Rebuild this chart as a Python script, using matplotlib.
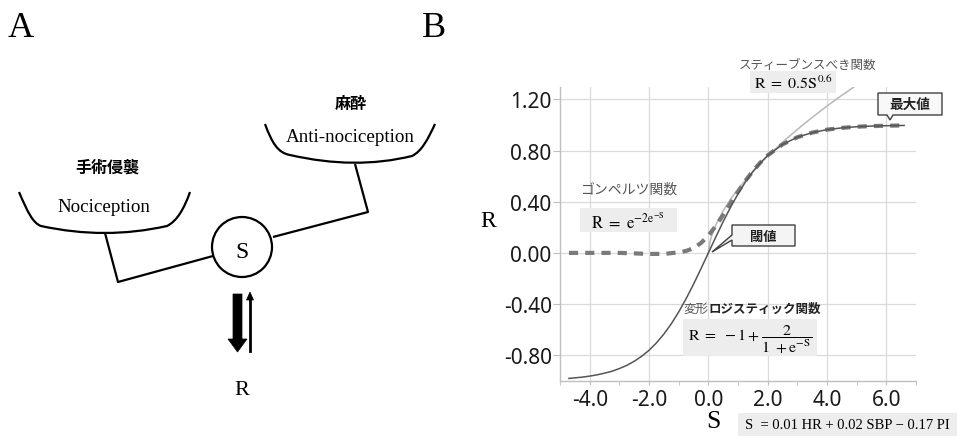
import matplotlib.pyplot as plt
from matplotlib.patches import Circle, Polygon, Rectangle, PathPatch
from matplotlib.path import Path
from matplotlib.ticker import FixedLocator, FixedFormatter

plt.rcParams.update(
    {
        "font.family": ["Noto Sans CJK JP", "DejaVu Sans"],
        "mathtext.fontset": "stix",
        "axes.unicode_minus": False,
    }
)

SERIF = "Liberation Serif"
CJK = ["Noto Sans CJK JP", "DejaVu Sans"]

# response curves R(S)
s_logistic = [-4.7, -4.25, -4.0, -3.75, -3.5, -3.25, -3.0, -2.75, -2.5, -2.25, -2.0,
              -1.75, -1.5, -1.25, -1.0, -0.75, -0.5, -0.25, 0.0, 0.25, 0.5, 0.75,
              1.0, 1.25, 1.5, 1.75, 2.0, 2.5, 3.0, 3.5, 4.0, 4.5, 5.0, 5.5, 6.0, 6.6]
r_logistic = [-0.982, -0.972, -0.964, -0.954, -0.941, -0.926, -0.905, -0.880, -0.848, -0.809,
              -0.762, -0.704, -0.635, -0.555, -0.462, -0.358, -0.245, -0.124, 0.000, 0.124,
              0.245, 0.358, 0.462, 0.555, 0.635, 0.704, 0.762, 0.848, 0.905, 0.941, 0.964,
              0.978, 0.987, 0.992, 0.995, 0.997]

s_gompertz = [-4.7, -4.0, -3.0, -2.0, -1.5, -1.0, -0.75, -0.5, -0.25, 0.0, 0.25, 0.5, 0.75,
              1.0, 1.25, 1.5, 1.75, 2.0, 2.5, 3.0, 3.5, 4.0, 4.5, 5.0, 5.5, 6.0, 6.6]
r_gompertz = [0.000, 0.000, 0.000, -0.008, -0.008, 0.004, 0.015, 0.037, 0.077, 0.135, 0.211,
              0.297, 0.389, 0.479, 0.565, 0.640, 0.706, 0.763, 0.849, 0.905, 0.941, 0.964,
              0.978, 0.987, 0.992, 0.995, 0.997]

s_stevens = [0.0, 0.05, 0.1, 0.25, 0.5, 0.75, 1.0, 1.5, 2.0, 2.5, 3.0, 3.5, 4.0, 4.5, 4.9]
r_stevens = [0.000, 0.083, 0.126, 0.218, 0.330, 0.421, 0.500, 0.638, 0.758, 0.866, 0.966,
             1.060, 1.149, 1.233, 1.297]

x_ticks = [-4.0, -2.0, 0.0, 2.0, 4.0, 6.0]
x_labels = ["-4.0", "-2.0", "0.0", "2.0", "4.0", "6.0"]
x_minor = [-5.0, -3.0, -1.0, 1.0, 3.0, 5.0, 7.0]
y_ticks = [1.2, 0.8, 0.4, 0.0, -0.4, -0.8]
y_labels = ["1.20", "0.80", "0.40", "0.00", "-0.40", "-0.80"]

fig = plt.figure(figsize=(9.57, 4.39), dpi=100)

# ---- panel B: curves ----
ax = fig.add_axes([0.5852, 0.1305, 0.372, 0.6697])
ax.plot(s_gompertz, r_gompertz, color="#7a7a7a", lw=3.0, dashes=(2.2, 1.7), zorder=3)
ax.plot(s_stevens, r_stevens, color="#b8b8b8", lw=1.1, zorder=2)
ax.plot(s_logistic, r_logistic, color="#555555", lw=1.1, zorder=4)

ax.set_xlim(-5, 7)
ax.set_ylim(-1.0, 1.3)
ax.xaxis.set_major_locator(FixedLocator(x_ticks))
ax.xaxis.set_major_formatter(FixedFormatter(x_labels))
ax.xaxis.set_minor_locator(FixedLocator(x_minor))
ax.yaxis.set_major_locator(FixedLocator(y_ticks))
ax.yaxis.set_major_formatter(FixedFormatter(y_labels))
ax.grid(True, which="major", color="#dadada", lw=0.9)
ax.set_axisbelow(True)
for side in ["top", "right"]:
    ax.spines[side].set_visible(False)
for side in ["left", "bottom"]:
    ax.spines[side].set_color("#bfbfbf")
    ax.spines[side].set_linewidth(1.0)
ax.tick_params(axis="both", which="both", colors="#bfbfbf", labelcolor="#1a1a1a",
               labelfontfamily="Noto Sans")
ax.tick_params(axis="y", length=5, pad=1, labelsize=15)
ax.tick_params(axis="x", which="major", length=3, pad=3, labelsize=15)
ax.tick_params(axis="x", which="minor", length=3)

# ---- overlay in pixel units for the schematic and annotations ----
ov = fig.add_axes([0, 0, 1, 1], zorder=5)
ov.set_xlim(0, 957)
ov.set_ylim(439, 0)
ov.axis("off")
ov.patch.set_alpha(0)

K = dict(color="black", lw=1.6, solid_capstyle="butt")

# left pan (nociception)
left_pan = Path(
    [(19, 193), (28, 214), (33, 224), (41, 227),
     (105, 241), (167, 227),
     (177, 222), (184, 210), (190, 193)],
    [Path.MOVETO, Path.CURVE4, Path.CURVE4, Path.CURVE4,
     Path.CURVE3, Path.CURVE3,
     Path.CURVE4, Path.CURVE4, Path.CURVE4],
)
ov.add_patch(PathPatch(left_pan, fill=False, lw=1.6, ec="black"))
# right pan (anti-nociception)
right_pan = Path(
    [(265, 125), (272, 144), (278, 154), (290, 156),
     (355, 171), (412, 157),
     (422, 152), (428, 140), (435, 125)],
    [Path.MOVETO, Path.CURVE4, Path.CURVE4, Path.CURVE4,
     Path.CURVE3, Path.CURVE3,
     Path.CURVE4, Path.CURVE4, Path.CURVE4],
)
ov.add_patch(PathPatch(right_pan, fill=False, lw=1.6, ec="black"))

ov.plot([105, 118, 213], [234, 283, 257], **K)
ov.plot([273, 368, 355], [238, 213, 165], **K)
ov.add_patch(Circle((242, 248), 30, fill=False, lw=1.6, ec="black"))

# balance arrows
ov.add_patch(Polygon([(233, 295), (242, 295), (242, 340), (247, 340), (237.5, 353),
                      (228, 340), (233, 340)], closed=True, fc="black", ec="black", lw=0.5))
ov.plot([250, 250], [352, 299], color="black", lw=2.0)
ov.add_patch(Polygon([(246.5, 301), (253.5, 301), (250, 293)], closed=True,
                     fc="black", ec="black", lw=0.5))

ov.text(8, 37, "A", family=SERIF, fontsize=26, va="baseline")
ov.text(422, 37, "B", family=SERIF, fontsize=26, va="baseline")
ov.text(351, 104, "麻酔", family=CJK, fontsize=11.5, weight="bold", ha="center", va="center")
ov.text(350, 142, "Anti-nociception", family=SERIF, fontsize=13.7, ha="center", va="baseline")
ov.text(107, 168, "手術侵襲", family=CJK, fontsize=11.5, weight="bold", ha="center", va="center")
ov.text(104, 212, "Nociception", family=SERIF, fontsize=13.7, ha="center", va="baseline")
ov.text(242, 258, "S", family=SERIF, fontsize=17, ha="center", va="baseline")
ov.text(242, 395, "R", family=SERIF, fontsize=16, ha="center", va="baseline")

# axis letters of panel B
ov.text(480, 227, "R", family=SERIF, fontsize=17, va="baseline")
ov.text(713, 428, "S", family=SERIF, fontsize=18.5, ha="center", va="baseline")

# formula boxes
BOX = "#ededed"
ov.text(808, 65, "スティーブンスべき関数", family=CJK, fontsize=9, color="#555555",
        ha="center", va="center")
ov.add_patch(Rectangle((750, 72), 86, 22, fc=BOX, ec="none"))
ov.text(793, 84, r"$\mathrm{R\ =\ 0.5S^{0.6}}$", fontsize=11.5, ha="center", va="center")

ov.text(580, 190, "ゴンペルツ関数", family=CJK, fontsize=10, color="#555555", va="center")
ov.add_patch(Rectangle((580, 209), 97, 24, fc=BOX, ec="none"))
ov.text(628, 222, r"$\mathrm{R\ =\ e^{-2e^{-S}}}$", fontsize=12, ha="center", va="center")

t1 = ov.text(683, 309, "変形", family=CJK, fontsize=9, color="#555555", va="center")
ov.annotate("ロジスティック関数", xy=(1, 0.5), xycoords=t1, va="center",
            family=CJK, fontsize=9, weight="bold", color="#222222")
ov.add_patch(Rectangle((683, 320), 134, 37, fc=BOX, ec="none"))
ov.text(750, 339, r"$\mathrm{R\ =\ -1+\dfrac{2}{1\ +e^{-S}}}$", fontsize=11.5,
        ha="center", va="center")

ov.add_patch(Rectangle((738, 414), 219, 23, fc=BOX, ec="none"))
ov.text(847, 426, "S  = 0.01 HR + 0.02 SBP \u2212 0.17 PI", family=SERIF, fontsize=10.5,
        ha="center", va="center")

# callouts
ov.add_patch(Polygon([(732, 226), (795, 226), (795, 247), (732, 247), (732, 241),
                      (712, 253), (732, 236)], closed=True, fc="#f4f4f4", ec="#404040", lw=1.0))
ov.text(763, 236.5, "閾値", family=CJK, fontsize=9.5, weight="bold", color="#222222",
        ha="center", va="center")
ov.add_patch(Polygon([(878, 94), (942, 94), (942, 116), (893, 116), (890, 121),
                      (887, 116), (878, 116)], closed=True, fc="#f8f8f8", ec="#404040", lw=1.0))
ov.text(910, 105, "最大値", family=CJK, fontsize=9.8, weight="bold", color="#222222",
        ha="center", va="center")

fig.savefig("out.png", dpi=100)
